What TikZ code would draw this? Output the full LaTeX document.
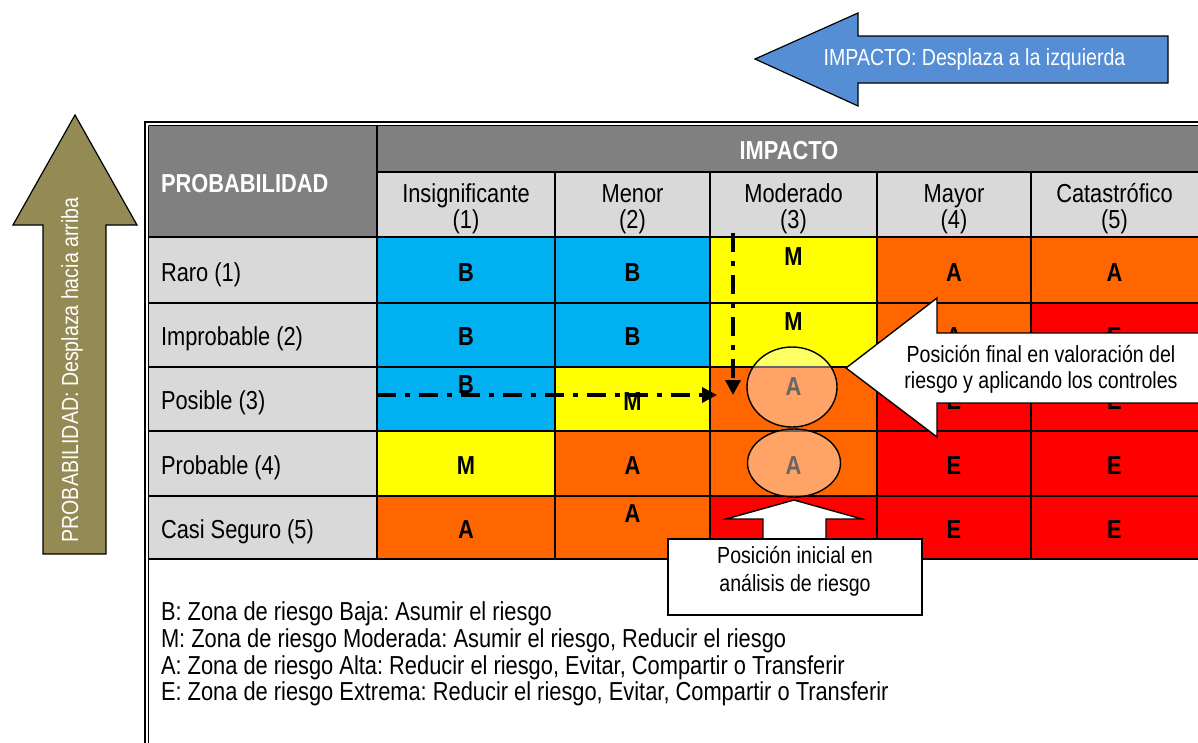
\documentclass[tikz,border=0pt]{standalone}
\usepackage{fontspec}
\setmainfont{Liberation Sans}[FakeStretch=0.84]
\usetikzlibrary{arrows.meta,shapes.geometric}
\frenchspacing
\definecolor{cB}{HTML}{00B0F0}
\definecolor{cM}{HTML}{FFFF00}
\definecolor{cA}{HTML}{FF6600}
\definecolor{cE}{HTML}{FF0000}
\definecolor{hdr}{HTML}{808080}
\definecolor{lgr}{HTML}{D9D9D9}
\definecolor{blu}{HTML}{558ED5}
\definecolor{oli}{HTML}{948A54}
\begin{document}
\begin{tikzpicture}[x=1pt,y=-1pt,
  every node/.style={inner sep=0pt, outer sep=0pt},
  body/.style={font=\fontsize{26}{29}\selectfont},
  bodyb/.style={font=\fontsize{26}{29}\selectfont\bfseries},
  small/.style={font=\fontsize{23.3}{27}\selectfont},
  lett/.style={font=\fontsize{26}{29}\selectfont\bfseries, anchor=base},
  gridline/.style={draw=black, line width=1.6pt},
  dasharrow/.style={line width=3.5pt, dash pattern=on 19pt off 9pt on 5pt off 9pt, -{Triangle[length=15pt,width=15pt]}},
  ov/.style={ellipse, draw=black, line width=1.4pt, fill=white, fill opacity=0.4},
  callout/.style={draw=black, line width=1.4pt, fill=white, line join=miter},
]
\useasboundingbox (0,0) rectangle (1198,742);
% header fills
\fill[hdr] (148,125) rectangle (1203,172);
\fill[hdr] (148,172) rectangle (377,237);
\fill[lgr] (377,172) rectangle (1203,237);
\fill[lgr] (148,237) rectangle (377,559);
% cells row 1
\fill[cB] (377,237) rectangle (555,303);
\fill[cB] (555,237) rectangle (710,303);
\fill[cM] (710,237) rectangle (877,303);
\fill[cA] (877,237) rectangle (1031,303);
\fill[cA] (1031,237) rectangle (1203,303);
% row 2
\fill[cB] (377,303) rectangle (555,367);
\fill[cB] (555,303) rectangle (710,367);
\fill[cM] (710,303) rectangle (877,367);
\fill[cA] (877,303) rectangle (1031,367);
\fill[cE] (1031,303) rectangle (1203,367);
% row 3
\fill[cB] (377,367) rectangle (555,431);
\fill[cM] (555,367) rectangle (710,431);
\fill[cA] (710,367) rectangle (877,431);
\fill[cE] (877,367) rectangle (1031,431);
\fill[cE] (1031,367) rectangle (1203,431);
% row 4
\fill[cM] (377,431) rectangle (555,496);
\fill[cA] (555,431) rectangle (710,496);
\fill[cA] (710,431) rectangle (877,496);
\fill[cE] (877,431) rectangle (1031,496);
\fill[cE] (1031,431) rectangle (1203,496);
% row 5
\fill[cA] (377,496) rectangle (555,559);
\fill[cA] (555,496) rectangle (710,559);
\fill[cE] (710,496) rectangle (877,559);
\fill[cE] (877,496) rectangle (1031,559);
\fill[cE] (1031,496) rectangle (1203,559);
% grid lines
\draw[gridline] (377,172) -- (1203,172);
\foreach \yy in {237,303,367,431,496,559} \draw[gridline] (148,\yy) -- (1203,\yy);
\draw[gridline] (377,125) -- (377,559);
\foreach \xx in {555,710,877,1031} \draw[gridline] (\xx,172) -- (\xx,559);
% outer double border
\draw[line width=2pt] (145,122) -- (1203,122);
\draw[line width=1.5pt] (148.5,125.5) -- (1203,125.5);
\draw[line width=2pt] (145,121) -- (145,747);
\draw[line width=1.5pt] (148.5,125.5) -- (148.5,747);
% header texts
\node[bodyb, text=white, anchor=base west] (prob) at (161,192) {PROBABILIDAD};
\node[bodyb, text=white, anchor=base] (imp) at (789,159) {IMPACTO};
\node[body, anchor=base] (h1) at (466,202) {Insignificante};
\node[body, anchor=base] (h1n) at (466,228) {(1)};
\node[body, anchor=base] (h2) at (632.5,202) {Menor};
\node[body, anchor=base] (h2n) at (632.5,228) {(2)};
\node[body, anchor=base] (h3) at (793.5,202) {Moderado};
\node[body, anchor=base] (h3n) at (793.5,228) {(3)};
\node[body, anchor=base] (h4) at (954,202) {Mayor};
\node[body, anchor=base] (h4n) at (954,228) {(4)};
\node[body, anchor=base] (h5) at (1114.5,202) {Catastrófico};
\node[body, anchor=base] (h5n) at (1114.5,228) {(5)};
% row labels
\node[body, anchor=base west] (r1) at (161,281) {Raro (1)};
\node[body, anchor=base west] (r2) at (161,345) {Improbable (2)};
\node[body, anchor=base west] (r3) at (161,409) {Posible (3)};
\node[body, anchor=base west] (r4) at (161,474) {Probable (4)};
\node[body, anchor=base west] (r5) at (161,538) {Casi Seguro (5)};
% letters
\node[lett] (l11) at (466,281) {B};
\node[lett] (l12) at (632.5,281) {B};
\node[lett] (l13) at (793.5,265) {M};
\node[lett] (l14) at (954,281) {A};
\node[lett] (l15) at (1114.5,281) {A};
\node[lett] (l21) at (466,345) {B};
\node[lett] (l22) at (632.5,345) {B};
\node[lett] (l23) at (793.5,330) {M};
\node[lett] (l24) at (954,345) {A};
\node[lett] (l25) at (1114.5,345) {E};
\node[lett] (l31) at (466,393) {B};
\node[lett] (l32) at (632.5,410) {M};
\node[lett] (l33) at (793.5,395) {A};
\node[lett] (l34) at (954,409) {E};
\node[lett] (l35) at (1114.5,409) {E};
\node[lett] (l41) at (466,474) {M};
\node[lett] (l42) at (632.5,474) {A};
\node[lett] (l43) at (793.5,474) {A};
\node[lett] (l44) at (954,474) {E};
\node[lett] (l45) at (1114.5,474) {E};
\node[lett] (l51) at (466,538) {A};
\node[lett] (l52) at (632.5,522) {A};
\node[lett] (l53) at (793.5,538) {E};
\node[lett] (l54) at (954,538) {E};
\node[lett] (l55) at (1114.5,538) {E};
% dash-dot arrows
\coordinate (hs) at (377,395);
\coordinate (he) at (717,395);
\coordinate (vs) at (733,233);
\coordinate (ve) at (733,395);
\draw[dasharrow] (hs) -- (he);
\draw[dasharrow] (vs) -- (ve);
% ellipses
\node[ov, minimum width=90pt, minimum height=80pt] (e1) at (792,387) {};
\node[ov, minimum width=93pt, minimum height=68pt] (e2) at (794,463) {};
% final position callout
\draw[callout] (846,368) -- (937,298) -- (937,333) -- (1205,333) -- (1205,403) -- (937,403) -- (937,437) -- cycle;
\node[small, anchor=base] (fin1) at (1041,362) {Posición final en valoración del};
\node[small, anchor=base] (fin2) at (1041,388) {riesgo y aplicando los controles};
% initial position callout
\draw[callout] (794,500) -- (862,519) -- (826,519) -- (826,545) -- (763,545) -- (763,519) -- (726,519) -- cycle;
\draw[callout] (668,539) rectangle (922,615);
\node[small, anchor=base] (ini1) at (795,563) {Posición inicial en};
\node[small, anchor=base] (ini2) at (795,591) {análisis de riesgo};
% block arrows
\draw[fill=blu, draw=black, line width=1.2pt] (755,59) -- (858,13) -- (858,36) -- (1168,36) -- (1168,83) -- (858,83) -- (858,106) -- cycle;
\node[small, text=white] (impa) at (974.5,59) {IMPACTO: Desplaza a la izquierda};
\draw[fill=oli, draw=black, line width=1.2pt] (75,115) -- (137,225) -- (106,225) -- (106,554) -- (43,554) -- (43,225) -- (13,225) -- cycle;
\node[small, text=white, rotate=90] (proba) at (72,370) {PROBABILIDAD: Desplaza hacia arriba};
% legend
\node[body, anchor=base west] (lg1) at (161,620) {B: Zona de riesgo Baja: Asumir el riesgo};
\node[body, anchor=base west] (lg2) at (161,647) {M: Zona de riesgo Moderada: Asumir el riesgo, Reducir el riesgo};
\node[body, anchor=base west] (lg3) at (161,674) {A: Zona de riesgo Alta: Reducir el riesgo, Evitar, Compartir o Transferir};
\node[body, anchor=base west] (lg4) at (161,700) {E: Zona de riesgo Extrema: Reducir el riesgo, Evitar, Compartir o Transferir};
\end{tikzpicture}
\end{document}
